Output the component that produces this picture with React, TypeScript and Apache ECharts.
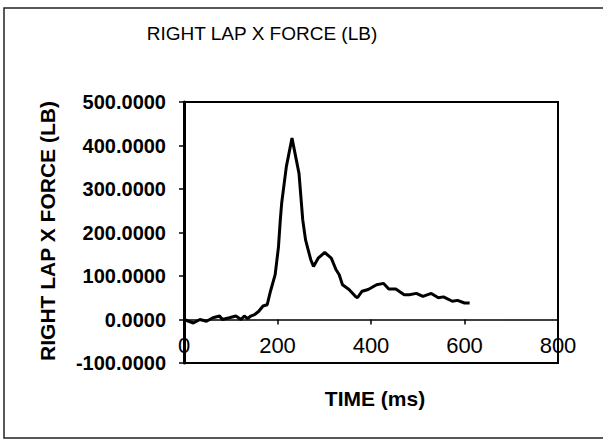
import React, { useEffect, useRef } from "react";
import * as echarts from "echarts";

const titleText = "RIGHT LAP X FORCE (LB)";
const xAxisTitle = "TIME (ms)";
const yAxisTitle = "RIGHT LAP X FORCE (LB)";

const xMin = 0;
const xMax = 800;
const xStep = 200;
const yMin = -100;
const yMax = 500;
const yStep = 100;

const timeMs = [
  0, 10, 20, 34, 48, 62, 76, 82, 97, 111, 122, 129, 136, 143, 152, 160, 169, 178,
  185, 195, 202, 206, 209, 219, 231, 246, 254, 260, 271, 277, 287, 301, 315, 325,
  332, 339, 353, 367, 371, 381, 394, 412, 427, 438, 453, 471, 482, 497, 511, 529,
  544, 555, 574, 585, 600, 611,
];
const forceLb = [
  0, -4, -8, 0, -4, 4, 8, 0, 4, 8, 0, 8, 2, 8, 12, 19, 31, 34,
  65, 103, 166, 229, 268, 352, 417, 336, 229, 183, 138, 122, 141, 154, 141, 115,
  103, 80, 69, 53, 50, 65, 69, 80, 83, 70, 70, 57, 57, 60, 53, 60,
  50, 52, 42, 44, 38, 38,
];

const FONT = "'Liberation Sans', Arial, Helvetica, sans-serif";

const GRID_TOP = 102;
const GRID_H = 261;

export default function App() {
  const ref = useRef<HTMLDivElement>(null);

  useEffect(() => {
    if (!ref.current) return;
    const chart = echarts.init(ref.current, undefined, { renderer: "svg" });
    const data = timeMs.map((t, i) => [t, forceLb[i]]);
    // distance from the grid bottom (yMin) up to the zero line
    const zeroOffset = (-yMin / (yMax - yMin)) * GRID_H;
    chart.setOption({
      animation: false,
      backgroundColor: "#ffffff",
      grid: {
        left: 184,
        top: GRID_TOP,
        width: 374,
        height: GRID_H,
        show: true,
        borderColor: "#000",
        borderWidth: 2,
        backgroundColor: "transparent",
      },
      xAxis: {
        type: "value",
        min: xMin,
        max: xMax,
        interval: xStep,
        position: "bottom",
        offset: -zeroOffset,
        axisLine: { onZero: false, lineStyle: { color: "#000", width: 1.5 } },
        axisTick: { show: true, inside: false, length: 5, lineStyle: { color: "#000", width: 1.5 } },
        axisLabel: {
          margin: 15,
          color: "#000",
          fontSize: 22,
          fontFamily: FONT,
          showMinLabel: true,
          showMaxLabel: true,
        },
        splitLine: { show: false },
      },
      yAxis: {
        type: "value",
        min: yMin,
        max: yMax,
        interval: yStep,
        axisLine: { onZero: false, show: true, lineStyle: { color: "#000", width: 3 } },
        axisTick: { show: true, inside: false, length: 5, lineStyle: { color: "#000", width: 1.5 } },
        axisLabel: {
          margin: 18,
          color: "#000",
          fontSize: 20,
          fontWeight: "bold",
          fontFamily: FONT,
          formatter: (v: number) => v.toFixed(4),
        },
        splitLine: { show: false },
      },
      series: [
        {
          type: "line",
          data,
          showSymbol: false,
          symbol: "none",
          lineStyle: { color: "#000", width: 3 },
          z: 5,
        },
      ],
      graphic: [
        {
          type: "rect",
          shape: { x: 4, y: 8, width: 610, height: 430 },
          style: { fill: "none", stroke: "#222", lineWidth: 1.5 },
          silent: true,
        },
        {
          type: "text",
          x: 262,
          y: 33,
          style: {
            text: titleText,
            fill: "#000",
            fontSize: 19,
            fontFamily: FONT,
            align: "center",
            verticalAlign: "middle",
          },
        },
        {
          type: "text",
          x: 375,
          y: 398,
          style: {
            text: xAxisTitle,
            fill: "#000",
            fontSize: 21,
            fontWeight: "bold",
            fontFamily: FONT,
            align: "center",
            verticalAlign: "middle",
          },
        },
        {
          type: "text",
          x: 47,
          y: 231,
          rotation: Math.PI / 2,
          style: {
            text: yAxisTitle,
            fill: "#000",
            fontSize: 21,
            fontWeight: "bold",
            fontFamily: FONT,
            align: "center",
            verticalAlign: "middle",
          },
        },
      ],
    });
    return () => chart.dispose();
  }, []);

  return (
    <div
      ref={ref}
      style={{ position: "fixed", left: 0, top: 0, width: 603, height: 440, background: "#fff" }}
    />
  );
}
